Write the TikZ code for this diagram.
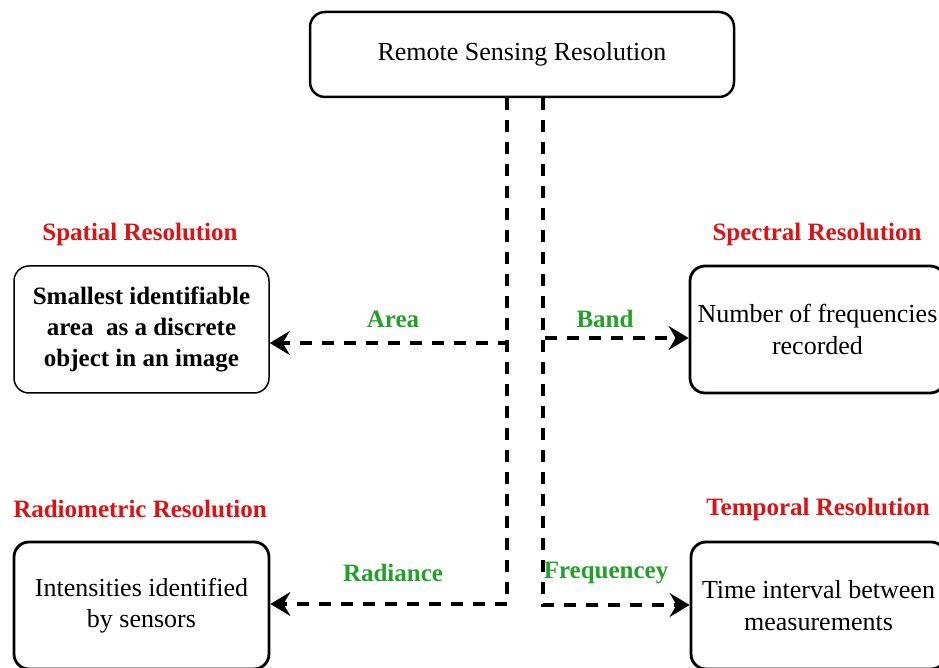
\documentclass[tikz,border=0pt]{standalone}
\usepackage{fontspec}
\setmainfont{Liberation Serif}
\usetikzlibrary{arrows.meta}
\definecolor{titlered}{RGB}{222,18,18}
\definecolor{labelgreen}{RGB}{34,160,40}
\tikzset{
  box/.style={draw=black, rounded corners=15pt, line width=2.8pt, fill=white,
    minimum width=255pt, minimum height=127pt, align=center, inner sep=2pt,
    font=\fontsize{26}{31.5}\selectfont},
  title/.style={text=titlered, font=\fontsize{25}{30}\selectfont\bfseries},
  tag/.style={text=labelgreen, font=\fontsize{25}{30}\selectfont\bfseries},
  conn/.style={draw=black, line width=3.4pt, dash pattern=on 12pt off 10pt,
    -{Stealth[length=20pt,width=24pt,inset=7pt]}},
}
\begin{document}
\begin{tikzpicture}[x=1pt,y=1pt]
\useasboundingbox (0,0) rectangle (939,667);
\clip (0,0) rectangle (939,667);

% main box
\node[box, minimum width=424pt, minimum height=85pt, line width=2.5pt] (top) at (522,612.5)
  {Remote Sensing Resolution};

% four resolution boxes
\node[box, line width=1.5pt, font=\fontsize{25}{31}\selectfont\bfseries] (spatial) at (141.5,337.5)
  {Smallest identifiable\\area \ as a discrete\\object in an image};
\node[box] (spectral) at (817.5,337.5) {Number of frequencies\\recorded};
\node[box] (radio) at (141.5,61.5) {Intensities identified\\by sensors};
\node[box] (temporal) at (818.5,61.5) {Time interval between\\measurements};

% headings
\node[title] (tspatial) at (140,433) {Spatial Resolution};
\node[title] (tspectral) at (817,433) {Spectral Resolution};
\node[title] (tradio) at (140,158) {Radiometric Resolution};
\node[title] (ttemporal) at (818,158) {Temporal Resolution};

% connectors
\draw[conn] ([xshift=-15pt]top.south) |- ([yshift=-13.5pt]spatial.east);
\draw[conn] ([xshift=21pt]top.south) |- ([yshift=-8.5pt]spectral.west);
\draw[conn] ([xshift=-15pt]top.south) |- ([yshift=1.5pt]radio.east);
\draw[conn] ([xshift=21pt]top.south) |- ([yshift=0.5pt]temporal.west);

% connector labels
\node[tag] (larea) at (393,348) {Area};
\node[tag] (lband) at (605,348) {Band};
\node[tag] (lrad) at (393,94) {Radiance};
\node[tag] (lfreq) at (606,94) {Frequencey};
\end{tikzpicture}
\end{document}
